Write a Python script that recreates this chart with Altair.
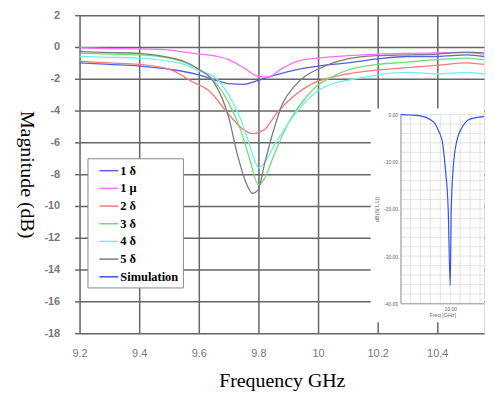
import altair as alt
import pandas as pd

series_names = ["1 δ", "1 μ", "2 δ", "3 δ", "4 δ", "5 δ", "Simulation"]
series_colors = ["#5262e2", "#fa70fa", "#f77a7a", "#70df70", "#72eeee", "#7c7c7c", "#3352f2"]

f_1d = [9.2, 9.3, 9.4, 9.5, 9.6, 9.65, 9.7, 9.75, 9.8, 9.85, 9.9, 9.95, 10.0, 10.1, 10.2, 10.3, 10.4, 10.5, 10.557]
db_1d = [-1.0, -1.1, -1.2, -1.4, -1.75, -2.05, -2.3, -2.35, -2.1, -1.8, -1.55, -1.35, -1.2, -1.0, -0.75, -0.6, -0.6, -0.5, -0.6]

f_1u = [9.2, 9.3, 9.4, 9.5, 9.6, 9.65, 9.7, 9.75, 9.8, 9.83, 9.88, 9.93, 10.0, 10.1, 10.2, 10.3, 10.4, 10.5, 10.557]
db_1u = [-0.05, -0.1, -0.12, -0.2, -0.45, -0.55, -0.8, -1.3, -1.85, -1.9, -1.35, -0.9, -0.7, -0.55, -0.45, -0.4, -0.37, -0.35, -0.45]

f_2d = [9.2, 9.3, 9.4, 9.5, 9.58, 9.64, 9.69, 9.75, 9.78, 9.82, 9.86, 9.9, 9.95, 10.0, 10.06, 10.13, 10.2, 10.3, 10.4, 10.5, 10.557]
db_2d = [-0.9, -1.0, -1.1, -1.4, -2.2, -2.85, -4.0, -5.2, -5.45, -5.2, -4.2, -3.4, -2.65, -2.15, -1.85, -1.6, -1.45, -1.3, -1.15, -1.0, -1.1]

f_3d = [9.2, 9.3, 9.4, 9.5, 9.55, 9.6, 9.65, 9.7, 9.74, 9.77, 9.8, 9.82, 9.85, 9.9, 9.95, 10.0, 10.05, 10.1, 10.2, 10.3, 10.4, 10.5, 10.557]
db_3d = [-0.4, -0.45, -0.5, -0.7, -0.95, -1.4, -2.1, -3.5, -5.2, -7.0, -8.65, -8.3, -6.9, -4.8, -3.4, -2.4, -1.85, -1.45, -1.1, -0.95, -0.8, -0.7, -0.8]

f_4d = [9.2, 9.3, 9.4, 9.5, 9.55, 9.6, 9.65, 9.7, 9.75, 9.78, 9.8, 9.82, 9.85, 9.9, 9.95, 10.0, 10.05, 10.1, 10.2, 10.3, 10.4, 10.5, 10.557]
db_4d = [-0.6, -0.65, -0.7, -0.9, -1.1, -1.5, -1.85, -3.0, -5.0, -6.7, -7.6, -7.3, -6.3, -4.8, -3.6, -2.75, -2.3, -2.1, -1.75, -1.6, -1.7, -1.6, -1.7]

f_5d = [9.2, 9.3, 9.4, 9.5, 9.55, 9.6, 9.65, 9.7, 9.73, 9.76, 9.78, 9.8, 9.82, 9.85, 9.88, 9.92, 9.96, 10.0, 10.05, 10.1, 10.2, 10.3, 10.4, 10.5, 10.557]
db_5d = [-0.3, -0.35, -0.4, -0.65, -0.9, -1.4, -2.2, -4.4, -6.8, -8.6, -9.2, -8.95, -7.4, -5.3, -3.6, -2.5, -1.8, -1.4, -1.0, -0.75, -0.55, -0.5, -0.45, -0.33, -0.37]

f_sim = [9.0, 9.2, 9.4, 9.6, 9.7, 9.74, 9.8, 9.84, 9.9, 9.96, 10.0, 10.02, 10.06, 10.13, 10.23, 10.37, 10.5, 10.68]
db_sim = [0.0, -0.1, -0.3, -1.1, -2.0, -2.9, -4.3, -5.7, -11.3, -20.4, -36.2, -20.4, -11.3, -5.7, -2.9, -1.1, -0.7, -0.45]

x_ticks = [9.2, 9.4, 9.6, 9.8, 10.0, 10.2, 10.4]
y_ticks = [-18, -16, -14, -12, -10, -8, -6, -4, -2, 0, 2]
inset_x_ticks = [9.0, 9.2, 9.4, 9.6, 9.8, 10.0, 10.2, 10.4, 10.6]
inset_y_ticks = [-40, -38, -36, -34, -32, -30, -28, -26, -24, -22, -20, -18, -16, -14, -12, -10, -8, -6, -4, -2, 0]
inset_x_domain = [9.0, 10.68]
inset_y_domain = [-40, 0]
inset_panel_x = [8.4, 10.68]
inset_panel_y = [1.26, -44.0]

rows = []
for name, fs, ds in [("1 δ", f_1d, db_1d), ("1 μ", f_1u, db_1u), ("2 δ", f_2d, db_2d),
                     ("3 δ", f_3d, db_3d), ("4 δ", f_4d, db_4d), ("5 δ", f_5d, db_5d)]:
    for f, d in zip(fs, ds):
        rows.append({"series": name, "freq": f, "db": d})
df_main = pd.DataFrame(rows)
df_sim = pd.DataFrame({"series": "Simulation", "freq": f_sim, "db": db_sim})
df_panel = pd.DataFrame({"x0": [inset_panel_x[0]], "x1": [inset_panel_x[1]],
                         "y0": [inset_panel_y[0]], "y1": [inset_panel_y[1]]})
df_vgrid = pd.DataFrame({"gx": inset_x_ticks, "gy0": inset_y_domain[0], "gy1": inset_y_domain[1]})
df_hgrid = pd.DataFrame({"gy": inset_y_ticks, "gx0": inset_x_domain[0], "gx1": inset_x_domain[1]})

color = alt.Color("series:N", scale=alt.Scale(domain=series_names, range=series_colors),
                  legend=alt.Legend(title=None, orient="none", legendX=8, legendY=144,
                                    symbolType="M-1.27,0H1.27", symbolSize=225,
                                    symbolStrokeWidth=1.5,
                                    labelFont="Liberation Serif", labelFontWeight="bold",
                                    labelFontSize=12.5, labelColor="black",
                                    strokeColor="#8a8a8a", fillColor="white", padding=4,
                                    rowPadding=2.8, symbolOffset=9, labelOffset=3))

main = alt.Chart(df_main).mark_line(strokeWidth=1.3, interpolate="monotone").encode(
    x=alt.X("freq:Q", scale=alt.Scale(domain=[9.2, 10.557], nice=False, zero=False),
            axis=alt.Axis(values=x_ticks, labelExpr="'' + datum.value", grid=True,
                          gridColor="#666", gridWidth=1.5, ticks=False, domain=False,
                          labelFont="Liberation Sans", labelFontSize=11, labelColor="#777",
                          labelPadding=14, labelFlush=False,
                          title="Frequency GHz", titleFont="Liberation Serif", titleFontSize=20,
                          titleFontWeight="normal", titleColor="black", titlePadding=13)),
    y=alt.Y("db:Q", scale=alt.Scale(domain=[-18, 2], nice=False, zero=False),
            axis=alt.Axis(values=y_ticks, labelExpr="'' + datum.value", grid=True,
                          gridColor="#666", gridWidth=1.5, ticks=True, tickColor="#666",
                          tickWidth=1.5, tickSize=5, domain=False,
                          labelFont="Liberation Sans", labelFontSize=11, labelColor="#777",
                          labelFontWeight="bold", labelPadding=15, labelFlush=False,
                          title="Magnitude (dB)", titleFont="Liberation Serif", titleFontSize=20,
                          titleFontWeight="normal", titleColor="black", titleAngle=90,
                          titleBaseline="top", titlePadding=8)),
    color=color,
    detail="series:N",
)

inset_xs = alt.Scale(domain=inset_x_domain, range=[323, 407], nice=False, zero=False)
inset_ys = alt.Scale(domain=inset_y_domain, range=[290, 100], nice=False, zero=False)
inset_x_axis = alt.Axis(orient="bottom", offset=-30, values=inset_x_ticks,
                        labelExpr="datum.value == 10 ? '10.00' : ''", grid=False,
                        domainColor="#999", ticks=False,
                        labelFont="Liberation Sans", labelFontSize=5, labelColor="#666",
                        labelPadding=3, labelFlush=False, labelOverlap=False,
                        title="Freq [GHz]", titleFont="Liberation Sans", titleFontSize=5.5,
                        titleFontWeight="normal", titleColor="#666", titlePadding=1, zindex=1)
inset_y_axis = alt.Axis(orient="left", offset=-323, values=inset_y_ticks,
                        labelExpr="datum.value % 10 == 0 ? (datum.value < 0 ? '-' : '') + format(abs(datum.value), '.2f') : ''",
                        grid=False, domainColor="#999",
                        ticks=False, labelFont="Liberation Sans", labelFontSize=5,
                        labelColor="#666", labelPadding=3, labelFlush=False, labelOverlap=False,
                        title="dB(S(1,1))", titleFont="Liberation Sans", titleFontSize=5.5,
                        titleFontWeight="normal", titleColor="#666", titlePadding=4, zindex=1)

panel = alt.Chart(df_panel).mark_rect(color="white").encode(
    x=alt.X("x0:Q", scale=inset_xs, axis=inset_x_axis),
    x2="x1:Q",
    y=alt.Y("y0:Q", scale=inset_ys, axis=inset_y_axis),
    y2="y1:Q",
)
vgrid = alt.Chart(df_vgrid).mark_rule(color="#dcdcdc", strokeWidth=0.8).encode(
    x=alt.X("gx:Q", scale=inset_xs, axis=inset_x_axis),
    y=alt.Y("gy0:Q", scale=inset_ys, axis=inset_y_axis),
    y2="gy1:Q",
)
hgrid = alt.Chart(df_hgrid).mark_rule(color="#dcdcdc", strokeWidth=0.8).encode(
    y=alt.Y("gy:Q", scale=inset_ys, axis=inset_y_axis),
    x=alt.X("gx0:Q", scale=inset_xs, axis=inset_x_axis),
    x2="gx1:Q",
)
sim = alt.Chart(df_sim).mark_line(strokeWidth=1.2, interpolate="monotone").encode(
    x=alt.X("freq:Q", scale=inset_xs, axis=inset_x_axis),
    y=alt.Y("db:Q", scale=inset_ys, axis=inset_y_axis),
    color=color,
)
inset = alt.layer(panel, vgrid, hgrid, sim)

chart = alt.layer(main, inset).resolve_scale(x="independent", y="independent").properties(
    width=407, height=320,
    padding={"left": 8, "top": 0, "right": 0, "bottom": 0},
).configure_view(stroke=None).configure(background="white")

chart.save("out.html", embed_options={"renderer": "svg", "actions": False})
